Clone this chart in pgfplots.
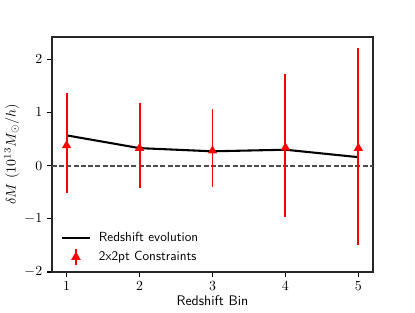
\documentclass[border=0pt]{standalone}
\usepackage{pgfplots}
\pgfplotsset{compat=1.18}
\usepackage{pgfplotstable}
\pgfplotstableread{
x y
1 0.57
2 0.33
3 0.27
4 0.30
5 0.16
}\evol
\pgfplotstableread{
x y ep em
1 0.38 0.99 0.90
2 0.33 0.85 0.75
3 0.28 0.78 0.69
4 0.34 1.38 1.31
5 0.33 1.89 1.83
}\cons
\begin{document}
\begin{tikzpicture}[x=1pt,y=1pt]
\path[use as bounding box] (0,0) rectangle (298.8,224.64);
\begin{axis}[
  at={(37.44pt,28.8pt)}, anchor=south west,
  scale only axis, width=231.1pt, height=169.2pt,
  xmin=0.8, xmax=5.2, ymin=-2, ymax=2.42,
  xtick={1,2,3,4,5}, ytick={-2,-1,0,1,2},
  tick align=outside, xtick pos=bottom, ytick pos=left,
  major tick length=3.5pt,
  every tick/.style={black, line width=0.8pt},
  axis line style={black!85, line width=0.8pt},
  xlabel={\sffamily Redshift Bin},
  ylabel={$\delta M$ $(10^{13} M_\odot/h)$},
  xlabel style={yshift=3pt},
  ylabel style={yshift=-3pt},
  legend style={draw=none, fill=none, font=\sffamily\fontsize{9.5}{11}\selectfont, row sep=1.5pt, column sep=4pt, at={(0.015,0.013)}, anchor=south west},
  legend cell align=left,
]
\addplot[black!70, line width=1.4pt, dash pattern=on 3.6pt off 1.6pt, forget plot] coordinates {(0.8,0) (5.2,0)};
\addplot[black, line width=1.5pt,
  legend image code/.code={\draw[black, line width=1.5pt] (0cm,0cm) -- (0.69cm,0cm);}] table[x=x,y=y] {\evol};
\addlegendentry{Redshift evolution}
\addplot[red, only marks, mark=triangle*, mark size=2.5pt, line width=1.4pt,
  legend image code/.code={
    \draw[red, line width=1.4pt] (0.345cm,-0.2cm) -- (0.345cm,0.2cm);
    \fill[red] (0.345cm,0.09cm) -- (0.265cm,-0.05cm) -- (0.425cm,-0.05cm) -- cycle;
  },
  error bars/.cd, y dir=both, y explicit, error bar style={red, line width=1.4pt}, error mark=none]
  table[x=x,y=y,y error plus=ep,y error minus=em] {\cons};
\addlegendentry{2x2pt Constraints}
\end{axis}
\end{tikzpicture}
\end{document}
